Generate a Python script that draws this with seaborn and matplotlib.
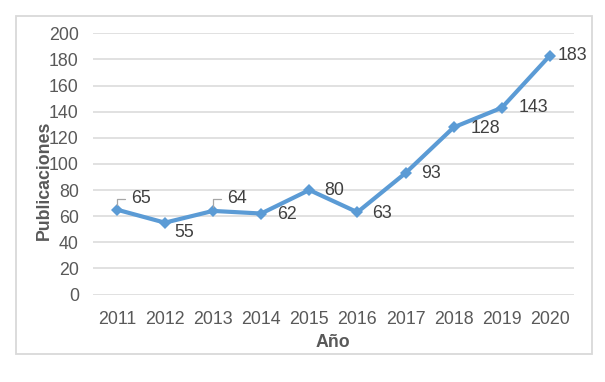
import matplotlib
matplotlib.use("Agg")
import matplotlib.pyplot as plt
import pandas as pd
import seaborn as sns
from matplotlib.patches import Rectangle

# data ------------------------------------------
years = ["2011", "2012", "2013", "2014", "2015", "2016", "2017", "2018", "2019", "2020"]
pubs = [65, 55, 64, 62, 80, 63, 93, 128, 143, 183]
yticks = [0, 20, 40, 60, 80, 100, 120, 140, 160, 180, 200]

df = pd.DataFrame({"Año": years, "Publicaciones": pubs})

# label offsets in pixels (dx, dy) and whether it gets a leader line
lblOffsets = [(14, 11), (9, -10), (14, 12), (16, -1), (15, 0),
              (15, -1), (16, 0), (17, -1), (17, 0), (8, 0)]
leaders = [True, False, True, False, False, False, False, False, False, False]

sns.set_style("white")
plt.rcParams["font.family"] = ["Liberation Sans", "DejaVu Sans"]

W, H = 605, 382
fig = plt.figure(figsize=(W / 100, H / 100), dpi=100)
ax = fig.add_axes([92.7 / W, 1 - 294.5 / H, (574 - 92.7) / W, (294.5 - 33.3) / H])

txtCol = "#595959"
lineCol = "#5B9BD5"
fs = 12.8

sns.lineplot(data=df, x="Año", y="Publicaciones", ax=ax, color=lineCol,
             linewidth=3, marker="D", markersize=6.5, markeredgewidth=0,
             sort=False)

ax.set_xlim(-0.5, len(years) - 0.5)
ax.set_ylim(0, 200)
ax.set_yticks(yticks)
ax.yaxis.grid(True, color="#D9D9D9", linewidth=1.1)
ax.set_axisbelow(True)
for spine in ax.spines.values():
    spine.set_visible(False)
ax.tick_params(axis="both", length=0, labelsize=fs, labelcolor=txtCol)
ax.tick_params(axis="y", pad=10)
ax.tick_params(axis="x", pad=12)

ax.set_xlabel("Año", fontsize=fs, fontweight="bold", color=txtCol)
ax.xaxis.set_label_coords(0.5, -0.15)
ax.set_ylabel("Publicaciones", fontsize=fs, fontweight="bold", color=txtCol)
ax.yaxis.set_label_coords(-0.082, 0.438)

for i, (yr, v) in enumerate(zip(years, pubs)):
    dx, dy = lblOffsets[i]
    if leaders[i]:
        ax.annotate(str(v), xy=(i, v), xytext=(dx, dy), textcoords="offset pixels",
                    ha="left", va="center", fontsize=fs, color="#404040",
                    arrowprops=dict(arrowstyle="-", color="#A6A6A6", lw=0.9,
                                    connectionstyle="angle,angleA=0,angleB=90,rad=0",
                                    shrinkA=2, shrinkB=3))
    else:
        ax.annotate(str(v), xy=(i, v), xytext=(dx, dy), textcoords="offset pixels",
                    ha="left", va="center", fontsize=fs, color="#404040")

# outer frame
fig.patches.append(Rectangle((15.7 / W, 1 - 354 / H), (592 - 15.7) / W, (354 - 15.7) / H,
                             transform=fig.transFigure, fill=False,
                             edgecolor="#D9D9D9", linewidth=1.3))

plt.savefig("out.png", dpi=100)
